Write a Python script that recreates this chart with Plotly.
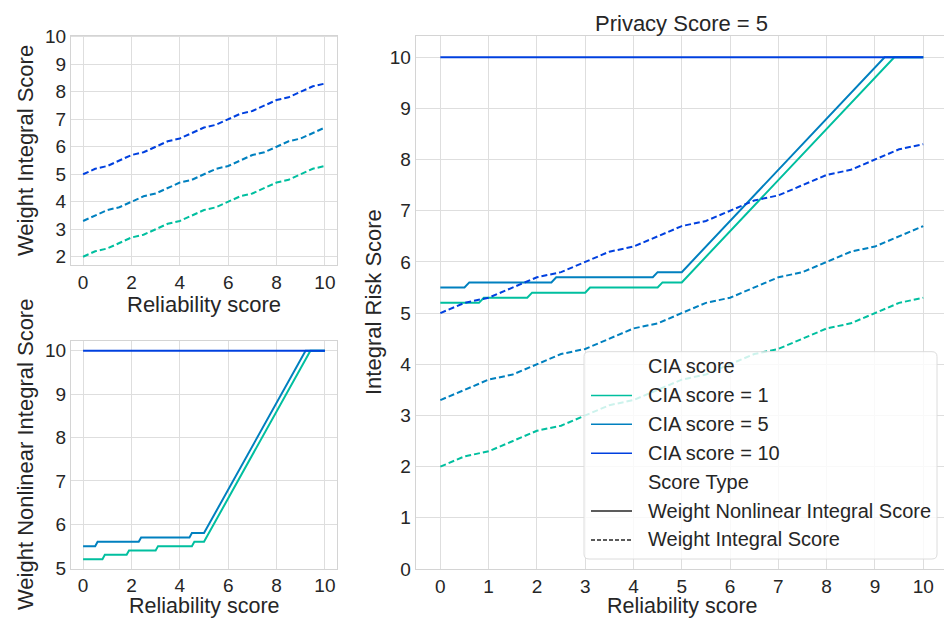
import plotly.graph_objects as go

# ---------------- data ----------------
reliability = [0, 0.5, 1, 1.5, 2, 2.5, 3, 3.5, 4, 4.5, 5, 5.5, 6, 6.5, 7, 7.5, 8, 8.5, 9, 9.5, 10]
wi_cia1 = [2.0, 2.2, 2.3, 2.5, 2.7, 2.8, 3.0, 3.2, 3.3, 3.5, 3.7, 3.8, 4.0, 4.2, 4.3, 4.5, 4.7, 4.8, 5.0, 5.2, 5.3]
wi_cia5 = [3.3, 3.5, 3.7, 3.8, 4.0, 4.2, 4.3, 4.5, 4.7, 4.8, 5.0, 5.2, 5.3, 5.5, 5.7, 5.8, 6.0, 6.2, 6.3, 6.5, 6.7]
wi_cia10 = [5.0, 5.2, 5.3, 5.5, 5.7, 5.8, 6.0, 6.2, 6.3, 6.5, 6.7, 6.8, 7.0, 7.2, 7.3, 7.5, 7.7, 7.8, 8.0, 8.2, 8.3]

nl_cia1_x = [0, 0.8, 0.9, 1.8, 1.9, 3.0, 3.1, 4.5, 4.6, 5.0, 9.4, 10]
nl_cia1 = [5.2, 5.2, 5.3, 5.3, 5.4, 5.4, 5.5, 5.5, 5.6, 5.6, 10.0, 10.0]
nl_cia5_x = [0, 0.5, 0.6, 2.3, 2.4, 4.4, 4.5, 5.0, 9.2, 10]
nl_cia5 = [5.5, 5.5, 5.6, 5.6, 5.7, 5.7, 5.8, 5.8, 10.0, 10.0]
nl_cia10_x = [0, 10]
nl_cia10 = [10.0, 10.0]

cia_levels = [1, 5, 10]
privacy_score = 5

# ---------------- styling ----------------
W, H = 944, 619
FONT = "Liberation Sans, Arial, sans-serif"
TXT = "#262626"
GRID = "#dedede"
EDGE = "#d4d4d4"
COLORS = {1: "#00BF9F", 5: "#0080BF", 10: "#0040DF"}
LW = 2
DASH = "6px,3px"


def fx(p):
    return p / W


def fy(p):
    return 1 - p / H


wi = {1: wi_cia1, 5: wi_cia5, 10: wi_cia10}
nl = {1: (nl_cia1_x, nl_cia1), 5: (nl_cia5_x, nl_cia5), 10: (nl_cia10_x, nl_cia10)}

fig = go.Figure()

# top-left: weight integral score
for c in cia_levels:
    fig.add_trace(go.Scatter(x=reliability, y=wi[c], mode="lines", xaxis="x", yaxis="y",
                             line=dict(color=COLORS[c], width=LW, dash=DASH), showlegend=False))
# bottom-left: weight nonlinear integral score
for c in cia_levels:
    fig.add_trace(go.Scatter(x=nl[c][0], y=nl[c][1], mode="lines", xaxis="x2", yaxis="y2",
                             line=dict(color=COLORS[c], width=LW), showlegend=False))
# right: both
for c in cia_levels:
    fig.add_trace(go.Scatter(x=nl[c][0], y=nl[c][1], mode="lines", xaxis="x3", yaxis="y3",
                             line=dict(color=COLORS[c], width=LW), showlegend=False))
for c in cia_levels:
    fig.add_trace(go.Scatter(x=reliability, y=wi[c], mode="lines", xaxis="x3", yaxis="y3",
                             line=dict(color=COLORS[c], width=LW, dash=DASH), showlegend=False))

axis_common = dict(showgrid=True, gridcolor=GRID, gridwidth=1, zeroline=False,
                   showline=True, linecolor=EDGE, linewidth=1, mirror=True, automargin=False,
                   ticks="", tickfont=dict(family=FONT, size=19, color=TXT))

fig.update_layout(
    width=W, height=H, margin=dict(l=0, r=0, t=0, b=0, pad=0, autoexpand=False),
    paper_bgcolor="white", plot_bgcolor="white",
    font=dict(family=FONT, color=TXT),
    showlegend=False,
    xaxis=dict(domain=[fx(71), fx(337)], range=[-0.5, 10.5], anchor="y",
               tickvals=[0, 2, 4, 6, 8, 10], **axis_common),
    yaxis=dict(domain=[fy(265), fy(35.7)], range=[1.7, 10.04], anchor="x",
               tickvals=[2, 3, 4, 5, 6, 7, 8, 9, 10], **axis_common),
    xaxis2=dict(domain=[fx(71), fx(337)], range=[-0.5, 10.5], anchor="y2",
                tickvals=[0, 2, 4, 6, 8, 10], **axis_common),
    yaxis2=dict(domain=[fy(568.5), fy(340.7)], range=[4.985, 10.23], anchor="x2",
                tickvals=[5, 6, 7, 8, 9, 10], **axis_common),
    xaxis3=dict(domain=[fx(415.7), 1.0], range=[-0.51, 10.43], anchor="y3",
                tickvals=list(range(0, 11)), **axis_common),
    yaxis3=dict(domain=[fy(569), fy(35.7)], range=[0, 10.42], anchor="x3",
                tickvals=list(range(0, 11)), **axis_common),
)

ann = []


def label(text, x, y, size=22, angle=0, xanchor="center"):
    ann.append(dict(text=text, x=fx(x), y=fy(y), xref="paper", yref="paper", showarrow=False,
                    textangle=angle, xanchor=xanchor, yanchor="middle",
                    font=dict(family=FONT, size=size, color=TXT)))


label("Weight Integral Score", 25, 151, angle=-90)
label("Reliability score", 204, 304)
label("Weight Nonlinear Integral Score", 25, 455, angle=-90)
label("Reliability score", 204, 606, size=21.5)
label("Integral Risk Score", 373, 302, angle=-90)
label("Reliability score", 682, 606, size=21.5)
label(f"Privacy Score = {privacy_score}", 681, 23)

# legend (drawn manually to mimic the seaborn legend)
shapes = []
L, R, T, B, rad = 584, 937, 351.7, 559, 5
path = (f"M {fx(L+rad)},{fy(T)} L {fx(R-rad)},{fy(T)} Q {fx(R)},{fy(T)} {fx(R)},{fy(T+rad)} "
        f"L {fx(R)},{fy(B-rad)} Q {fx(R)},{fy(B)} {fx(R-rad)},{fy(B)} "
        f"L {fx(L+rad)},{fy(B)} Q {fx(L)},{fy(B)} {fx(L)},{fy(B-rad)} "
        f"L {fx(L)},{fy(T+rad)} Q {fx(L)},{fy(T)} {fx(L+rad)},{fy(T)} Z")
shapes.append(dict(type="path", path=path, xref="paper", yref="paper",
                   fillcolor="rgba(255,255,255,0.8)", line=dict(color="#dcdcdc", width=1)))

rows = [("CIA score", None, None),
        (f"CIA score = {cia_levels[0]}", COLORS[1], "solid"),
        (f"CIA score = {cia_levels[1]}", COLORS[5], "solid"),
        (f"CIA score = {cia_levels[2]}", COLORS[10], "solid"),
        ("Score Type", None, None),
        ("Weight Nonlinear Integral Score", "#262626", "solid"),
        ("Weight Integral Score", "#262626", "4px,2px")]
y0, dy = 366.5, 28.9
for i, (t, col, dash) in enumerate(rows):
    yy = y0 + i * dy
    if col is not None:
        shapes.append(dict(type="line", xref="paper", yref="paper", x0=fx(591), x1=fx(632),
                           y0=fy(yy), y1=fy(yy), line=dict(color=col, width=1.5, dash=dash)))
    label(t, 645.5, yy - 0.5, size=20, xanchor="left")

fig.update_layout(annotations=ann, shapes=shapes)
fig.write_html("out.html")
